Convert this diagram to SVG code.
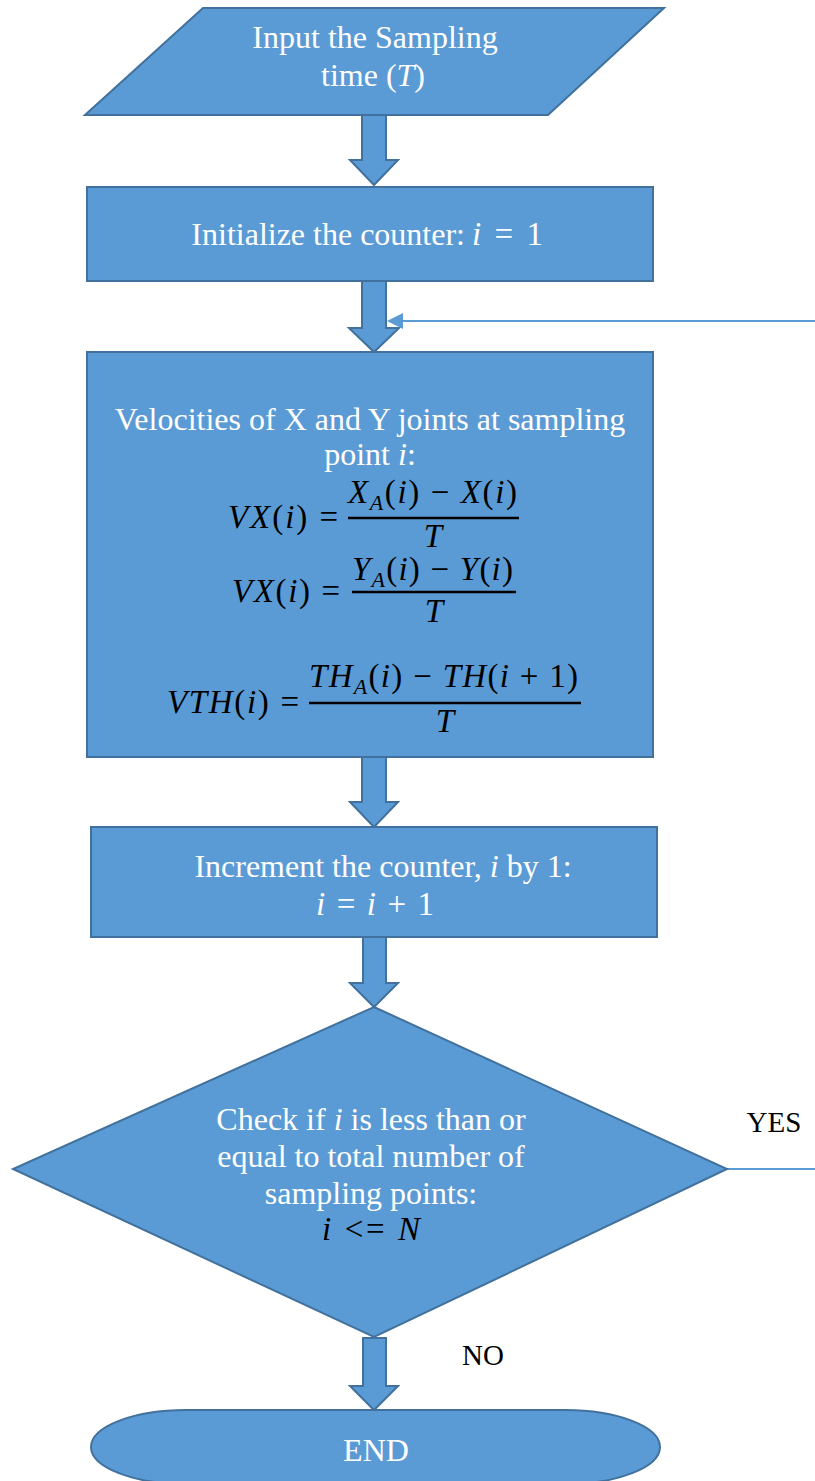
<svg xmlns="http://www.w3.org/2000/svg" width="815" height="1481" viewBox="0 0 815 1481">
<style>
.shape{fill:#5B9BD5;stroke:#41719C;stroke-width:2}
.barrow{fill:#5B9BD5;stroke:#41719C;stroke-width:2;stroke-linejoin:miter}
text{font-family:'Liberation Serif','DejaVu Serif',serif}
.t{font-size:32px;fill:#ffffff;text-anchor:middle}
.te{font-size:32px;fill:#ffffff;text-anchor:end}
.lbl{font-size:29px;fill:#000000;text-anchor:middle}
.m{font-size:33px;fill:#000000}
.mw{font-size:33px;fill:#ffffff}
.i{font-style:italic}
.bar{stroke:#000000;stroke-width:2.5}
.line{stroke:#5B9BD5;stroke-width:2;fill:none}
</style>

<g id="connectors">
<path class="barrow" d="M362,115 H386 V160 H398 L374,185 L350,160 H362 Z"/>
<path class="barrow" d="M362,281 H386 V328 H399 L374,352 L349,328 H362 Z"/>
<path class="barrow" d="M362,757 H386 V802 H398 L374,827 L350,802 H362 Z"/>
<path class="barrow" d="M363,937 H386 V983 H398 L374,1007 L350,983 H363 Z"/>
<path class="barrow" d="M363,1338 H386 V1386 H398 L374,1410 L350,1386 H363 Z"/>
<line class="line" x1="815" y1="321" x2="400" y2="321"/>
<path d="M387,321 L403,313 L403,329 Z" fill="#5B9BD5"/>
<line class="line" x1="723" y1="1169" x2="815" y2="1169"/>
<text class="lbl" x="774" y="1132">YES</text>
<text class="lbl" x="483" y="1365">NO</text>
</g>

<g id="input">
<polygon class="shape" points="203,8 664,8 548,115 85,115"/>
<text class="t" x="375" y="48">Input the Sampling</text>
<text class="t" x="373" y="86">time (<tspan class="i">T</tspan>)</text>
</g>

<g id="init">
<rect class="shape" x="87" y="187" width="566" height="94"/>
<text class="te" x="465" y="245">Initialize the counter:</text>
<text class="mw" x="472" y="245" textLength="71" lengthAdjust="spacing"><tspan class="i">i</tspan> = 1</text>
</g>

<g id="velocities">
<rect class="shape" x="87" y="352" width="566" height="405"/>
<text class="t" x="370" y="430">Velocities of X and Y joints at sampling</text>
<text class="t" x="370" y="465">point <tspan class="i">i</tspan>:</text>
<text class="m" x="228" y="528" textLength="110" lengthAdjust="spacing"><tspan class="i">VX</tspan>(<tspan class="i">i</tspan>) =</text>
<text class="m" x="348" y="503" textLength="169" lengthAdjust="spacing"><tspan class="i">X</tspan><tspan class="i" font-size="22" dy="7">A</tspan><tspan dy="-7">(</tspan><tspan class="i">i</tspan>) − <tspan class="i">X</tspan>(<tspan class="i">i</tspan>)</text>
<line class="bar" x1="348" y1="518" x2="519" y2="518"/>
<text class="m i" x="433" y="547" text-anchor="middle">T</text>
<text class="m" x="232" y="602" textLength="108" lengthAdjust="spacing"><tspan class="i">VX</tspan>(<tspan class="i">i</tspan>) =</text>
<text class="m" x="352" y="580" textLength="161" lengthAdjust="spacing"><tspan class="i">Y</tspan><tspan class="i" font-size="22" dy="7">A</tspan><tspan dy="-7">(</tspan><tspan class="i">i</tspan>) − <tspan class="i">Y</tspan>(<tspan class="i">i</tspan>)</text>
<line class="bar" x1="352" y1="592" x2="516" y2="592"/>
<text class="m i" x="434" y="622" text-anchor="middle">T</text>
<text class="m" x="167" y="713" textLength="132" lengthAdjust="spacing"><tspan class="i">VTH</tspan>(<tspan class="i">i</tspan>) =</text>
<text class="m" x="309" y="687" textLength="269" lengthAdjust="spacing"><tspan class="i">TH</tspan><tspan class="i" font-size="22" dy="7">A</tspan><tspan dy="-7">(</tspan><tspan class="i">i</tspan>) − <tspan class="i">TH</tspan>(<tspan class="i">i</tspan> + 1)</text>
<line class="bar" x1="309" y1="703" x2="581" y2="703"/>
<text class="m i" x="445" y="732" text-anchor="middle">T</text>
</g>

<g id="increment">
<rect class="shape" x="91" y="827" width="566" height="110"/>
<text class="t" x="383" y="877">Increment the counter, <tspan class="i">i</tspan> by 1:</text>
<text class="mw" x="316" y="915" textLength="118" lengthAdjust="spacing"><tspan class="i">i</tspan> = <tspan class="i">i</tspan> + 1</text>
</g>

<g id="check">
<polygon class="shape" points="374,1007 727,1169 374,1337 13,1169"/>
<text class="t" x="371" y="1130">Check if <tspan class="i">i</tspan> is less than or</text>
<text class="t" x="371" y="1167">equal to total number of</text>
<text class="t" x="371" y="1204">sampling points:</text>
<text class="m" x="322" y="1240" textLength="98" lengthAdjust="spacing"><tspan class="i">i</tspan> &lt;= <tspan class="i">N</tspan></text>
</g>

<g id="end">
<rect class="shape" x="91" y="1410" width="569" height="74" rx="95" ry="37"/>
<text class="t" x="376" y="1461">END</text>
</g>
</svg>
